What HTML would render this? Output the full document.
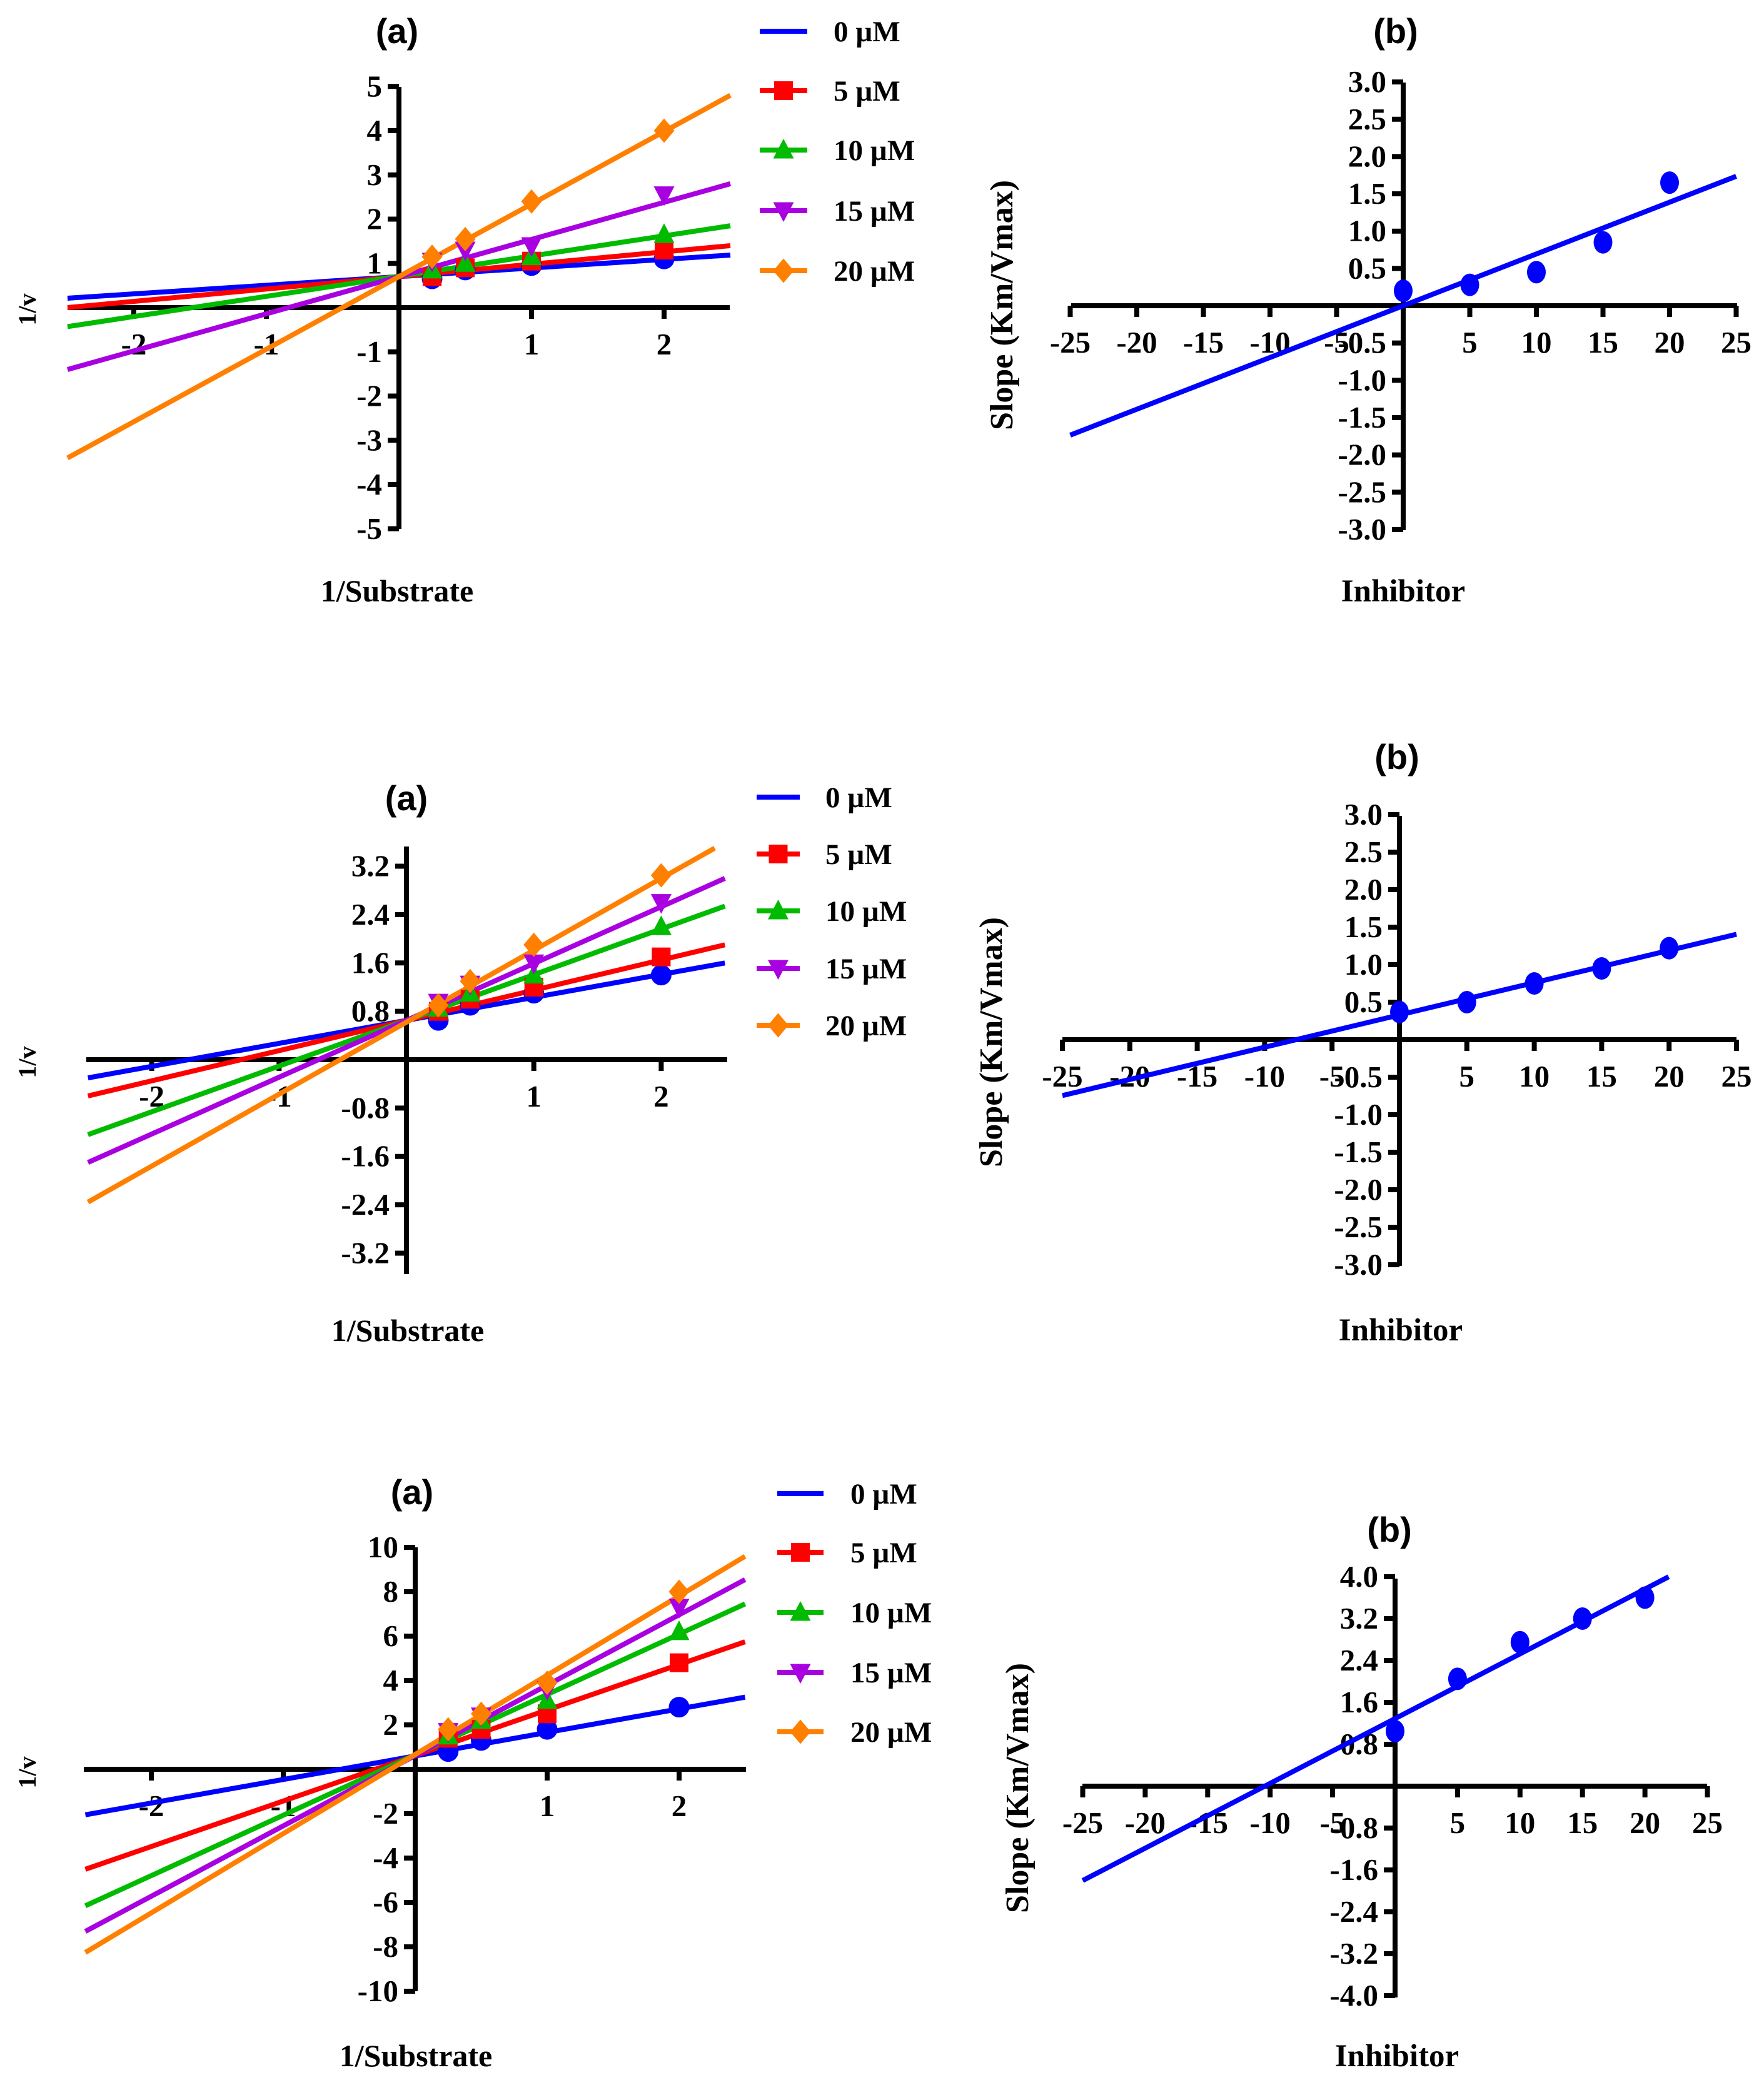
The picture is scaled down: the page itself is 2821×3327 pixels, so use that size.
<!DOCTYPE html>
<html><head><meta charset="utf-8"><style>
html,body{margin:0;padding:0;background:#fff;}
svg{display:block;}
text{font-family:"Liberation Serif","Times New Roman",serif;font-weight:bold;fill:#000;}
</style></head>
<body>
<svg id="fig" xmlns="http://www.w3.org/2000/svg" width="2821" height="3327" viewBox="0 0 2821 3327"></svg>
<script>
// ---------- DATA ----------
const SUBSTRATE_X = [0.25, 0.5, 1, 2];
const CONC_LABELS = ["0 µM", "5 µM", "10 µM", "15 µM", "20 µM"];
const INHIBITOR_X = [0, 5, 10, 15, 20];

// Row 1 Lineweaver-Burk
const R1_SLOPE = [0.195, 0.28, 0.456, 0.84, 1.64];
const R1_INTERCEPT = [0.7, 0.7, 0.71, 0.7, 0.7];
const R1_Y0 = [0.65, 0.85, 0.95, 1.1];
const R1_Y5 = [0.7, 0.9, 1.05, 1.3];
const R1_Y10 = [0.85, 1.0, 1.15, 1.65];
const R1_Y15 = [1.05, 1.3, 1.4, 2.55];
const R1_Y20 = [1.15, 1.55, 2.4, 4.0];
const R1_YTICKS = [-5, -4, -3, -2, -1, 1, 2, 3, 4, 5];
// Row 1 secondary plot
const R1B_Y = [0.2, 0.28, 0.45, 0.85, 1.65];
const R1B_FIT = [0.0694, 0.0];
const R1B_YTICKS = [-3, -2.5, -2, -1.5, -1, -0.5, 0.5, 1, 1.5, 2, 2.5, 3];

// Row 2
const R2_SLOPE = [0.38, 0.5, 0.756, 0.94, 1.19];
const R2_INTERCEPT = [0.65, 0.65, 0.65, 0.65, 0.62];
const R2_Y0 = [0.65, 0.9, 1.1, 1.4];
const R2_Y5 = [0.8, 1.0, 1.2, 1.7];
const R2_Y10 = [0.85, 1.1, 1.4, 2.2];
const R2_Y15 = [0.95, 1.25, 1.6, 2.6];
const R2_Y20 = [0.9, 1.3, 1.9, 3.05];
const R2_YTICKS = [-3.2, -2.4, -1.6, -0.8, 0.8, 1.6, 2.4, 3.2];
const R2B_Y = [0.37, 0.5, 0.75, 0.95, 1.22];
const R2B_FIT = [0.043, 0.33];
const R2B_YTICKS = [-3, -2.5, -2, -1.5, -1, -0.5, 0.5, 1, 1.5, 2, 2.5, 3];

// Row 3
const R3_SLOPE = [1.06, 2.05, 2.72, 3.17, 3.57];
const R3_INTERCEPT = [0.6, 0.62, 0.65, 0.62, 0.67];
const R3_Y0 = [0.8, 1.3, 1.8, 2.8];
const R3_Y5 = [1.4, 1.8, 2.5, 4.8];
const R3_Y10 = [1.5, 2.2, 3.1, 6.2];
const R3_Y15 = [1.7, 2.4, 3.6, 7.3];
const R3_Y20 = [1.8, 2.5, 3.9, 8.0];
const R3_YTICKS = [-10, -8, -6, -4, -2, 2, 4, 6, 8, 10];
const R3B_Y = [1.05, 2.05, 2.75, 3.2, 3.6];
const R3B_FIT = [0.1237, 1.29];
const R3B_YTICKS = [-4, -3.2, -2.4, -1.6, -0.8, 0.8, 1.6, 2.4, 3.2, 4];

const LB_XTICKS = [-2, -1, 1, 2];
const INH_XTICKS = [-25, -20, -15, -10, -5, 5, 10, 15, 20, 25];

// ---------- RENDER ----------
const NS = "http://www.w3.org/2000/svg";
const svg = document.getElementById("fig");
const COLORS = ["#0000ff", "#ff0000", "#00bb00", "#a800e0", "#ff8000"];
const SHAPES = ["circle", "square", "tri", "itri", "diamond"];
const TICK_FS = 49;

function mk(tag, attrs, parent) {
  const e = document.createElementNS(NS, tag);
  for (const k in attrs) e.setAttribute(k, attrs[k]);
  (parent || svg).appendChild(e);
  return e;
}
function txt(parent, s, x, y, size, anchor, family) {
  const t = mk("text", {x: x, y: y, "font-size": size, "text-anchor": anchor || "middle"}, parent);
  if (family) t.setAttribute("style", "font-family:" + family);
  t.textContent = s;
  return t;
}
function marker(g, shape, cx, cy, color, s) {
  let e;
  if (shape === "circle") e = mk("circle", {cx: cx, cy: cy, r: s * 0.55, fill: color}, g);
  else if (shape === "square") e = mk("rect", {x: cx - s / 2, y: cy - s / 2, width: s, height: s, fill: color}, g);
  else if (shape === "tri") e = mk("polygon", {points: `${cx},${cy - s * 0.6} ${cx - s * 0.55},${cy + s * 0.45} ${cx + s * 0.55},${cy + s * 0.45}`, fill: color}, g);
  else if (shape === "itri") e = mk("polygon", {points: `${cx},${cy + s * 0.6} ${cx - s * 0.55},${cy - s * 0.45} ${cx + s * 0.55},${cy - s * 0.45}`, fill: color}, g);
  else e = mk("polygon", {points: `${cx},${cy - s * 0.65} ${cx + s * 0.55},${cy} ${cx},${cy + s * 0.65} ${cx - s * 0.55},${cy}`, fill: color}, g);
  return e;
}
function fmt(v, dec) { return dec ? v.toFixed(dec) : String(v); }

function drawAxes(g, P, xticks, yticks, ydec) {
  const X = v => P.ox + v * P.ux, Y = v => P.oy - v * P.uy;
  const xa = mk("line", {x1: P.xl, y1: P.oy, x2: P.xr, y2: P.oy, stroke: "#000", "stroke-width": 8}, g);
  
  
  const ya = mk("line", {x1: P.ox, y1: P.yt, x2: P.ox, y2: P.yb, stroke: "#000", "stroke-width": 8}, g);
  
  
  xticks.forEach(v => {
    mk("line", {x1: X(v), y1: P.oy, x2: X(v), y2: P.oy + 18, stroke: "#000", "stroke-width": 8}, g);
    const t = txt(g, String(v), X(v), P.oy + 75, TICK_FS, "middle");
    
    
  });
  yticks.forEach(v => {
    mk("line", {x1: P.ox - 18, y1: Y(v), x2: P.ox, y2: Y(v), stroke: "#000", "stroke-width": 8}, g);
    const t = txt(g, fmt(v, ydec), P.ox - 27, Y(v) + 16, TICK_FS, "end");
    
    
  });
}

function drawLB(P, slopes, inters, series, yticks, ydec) {
  const g = mk("g", {});
  
  
  drawAxes(g, P, LB_XTICKS, yticks, ydec);
  const X = v => P.ox + v * P.ux, Y = v => P.oy - v * P.uy;
  slopes.forEach((m, i) => {
    const b = inters[i];
    let x1 = P.xmin, x2 = P.xmax;
    if (m > 0) {
      x1 = Math.max(x1, (P.ymin - b) / m);
      x2 = Math.min(x2, (P.ymax - b) / m);
    }
    const ln = mk("line", {x1: X(x1), y1: Y(m * x1 + b), x2: X(x2), y2: Y(m * x2 + b), stroke: COLORS[i], "stroke-width": 8}, g);
    
    
  });
  series.forEach((ys, i) => {
    ys.forEach((y, j) => {
      const e = marker(g, SHAPES[i], X(SUBSTRATE_X[j]), Y(y), COLORS[i], 30);
      
      
    });
  });
  const ti = txt(g, "(a)", P.tx, P.ty + 18, 56, "middle", '"Liberation Sans",Arial,sans-serif');
  
  
  const yt = txt(g, "1/v", 0, 0, 40, "middle");
  yt.setAttribute("transform", `translate(${P.ytx + 14},${P.yty}) rotate(-90)`);
  
  
  const xt = txt(g, "1/Substrate", P.xtx, P.xty + 17, 50, "middle");
  
  
  CONC_LABELS.forEach((lab, i) => {
    const y = P.legY[i];
    const lg = mk("g", {}, g);
    
    
    mk("line", {x1: P.legL, y1: y, x2: P.legR, y2: y, stroke: COLORS[i], "stroke-width": 8}, lg);
    if (i > 0) marker(lg, SHAPES[i], (P.legL + P.legR) / 2, y, COLORS[i], 30);
    txt(lg, lab, P.legT, y + 16, 47, "start");
  });
}

function drawSec(P, ys, fit, yticks, ydec) {
  const g = mk("g", {});
  
  
  drawAxes(g, P, INH_XTICKS, yticks, ydec);
  const X = v => P.ox + v * P.ux, Y = v => P.oy - v * P.uy;
  const m = fit[0], b = fit[1];
  const ln = mk("line", {x1: X(P.xmin), y1: Y(m * P.xmin + b), x2: X(P.lineEnd), y2: Y(m * P.lineEnd + b), stroke: "#0000ff", "stroke-width": 8}, g);
  
  
  ys.forEach((y, j) => {
    const c = mk("ellipse", {cx: X(INHIBITOR_X[j]), cy: Y(y), rx: 15, ry: 18, fill: "#0000ff"}, g);
    
    
  });
  const ti = txt(g, "(b)", P.tx, P.ty + 18, 56, "middle", '"Liberation Sans",Arial,sans-serif');
  
  
  const yt = txt(g, "Slope (Km/Vmax)", 0, 0, 52, "middle");
  yt.setAttribute("transform", `translate(${P.ytx + 18},${P.yty}) rotate(-90)`);
  
  
  const xt = txt(g, "Inhibitor", P.xtx, P.xty + 17, 51, "middle");
  
  
}

// Row 1
drawLB({name: "panel-1a", ox: 638, oy: 492, ux: 212, uy: 70.75, xl: 108, xr: 1167, yt: 139, yb: 846,
  xmin: -2.5, xmax: 2.5, ymin: -5.2, ymax: 5.2, tx: 635, ty: 51, ytx: 43, yty: 495, xtx: 635, xty: 945,
  legL: 1215, legR: 1291, legT: 1333, legY: [50, 145, 240, 337, 433]},
  R1_SLOPE, R1_INTERCEPT, [R1_Y0, R1_Y5, R1_Y10, R1_Y15, R1_Y20], R1_YTICKS, 0);
drawSec({name: "panel-1b", ox: 2244, oy: 489, ux: 21.3, uy: 119.3, xl: 1713, xr: 2778, yt: 132, yb: 848,
  xmin: -25, lineEnd: 25, tx: 2232, ty: 51, ytx: 1601, yty: 488, xtx: 2244, xty: 945},
  R1B_Y, R1B_FIT, R1B_YTICKS, 1);

// Row 2
drawLB({name: "panel-2a", ox: 650, oy: 1695, ux: 203.7, uy: 96.7, xl: 138, xr: 1163, yt: 1354, yb: 2038,
  xmin: -2.5, xmax: 2.5, ymin: -3.6, ymax: 3.5, tx: 650, ty: 1278, ytx: 43, yty: 1699, xtx: 652, xty: 2128,
  legL: 1210, legR: 1279, legT: 1320, legY: [1275, 1366, 1457, 1549, 1640]},
  R2_SLOPE, R2_INTERCEPT, [R2_Y0, R2_Y5, R2_Y10, R2_Y15, R2_Y20], R2_YTICKS, 1);
drawSec({name: "panel-2b", ox: 2238, oy: 1663, ux: 21.56, uy: 120, xl: 1699, xr: 2777, yt: 1305, yb: 2025,
  xmin: -25, lineEnd: 25, tx: 2234, ty: 1212, ytx: 1584, yty: 1667, xtx: 2240, xty: 2127},
  R2B_Y, R2B_FIT, R2B_YTICKS, 1);

// Row 3
drawLB({name: "panel-3a", ox: 664, oy: 2830, ux: 211, uy: 35.5, xl: 134, xr: 1193, yt: 2475, yb: 3185,
  xmin: -2.5, xmax: 2.5, ymin: -10.5, ymax: 10.5, tx: 659, ty: 2388, ytx: 43, yty: 2835, xtx: 665, xty: 3288,
  legL: 1243, legR: 1317, legT: 1360, legY: [2389, 2483, 2579, 2675, 2770]},
  R3_SLOPE, R3_INTERCEPT, [R3_Y0, R3_Y5, R3_Y10, R3_Y15, R3_Y20], R3_YTICKS, 0);
drawSec({name: "panel-3b", ox: 2231, oy: 2857, ux: 19.98, uy: 83.75, xl: 1731, xr: 2730, yt: 2525, yb: 3195,
  xmin: -25, lineEnd: 21.9, tx: 2222, ty: 2448, ytx: 1626, yty: 2860, xtx: 2234, xty: 3288},
  R3B_Y, R3B_FIT, R3B_YTICKS, 1);
</script>
</body></html>
